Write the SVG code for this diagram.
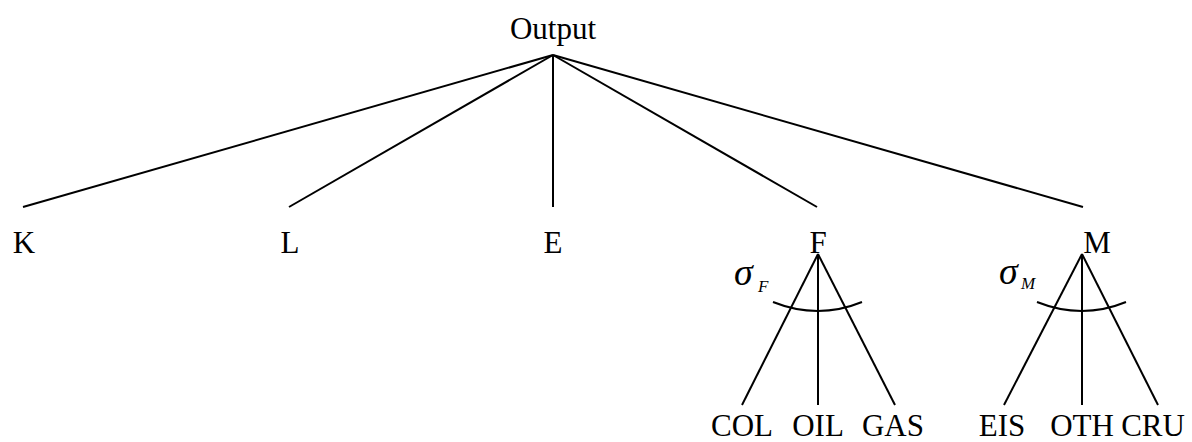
<svg xmlns="http://www.w3.org/2000/svg" width="1192" height="442" viewBox="0 0 1192 442">
<style>
.ln{stroke:#000;stroke-width:2;fill:none}
.t{font-family:"Liberation Serif","Times New Roman",serif;font-size:31px;fill:#000;text-anchor:middle}
.s{font-family:"Liberation Serif","Times New Roman",serif;font-style:italic;fill:#000}
</style>
<rect width="1192" height="442" fill="#fff"/>
<g id="connectors">
<line class="ln" x1="553" y1="55" x2="23" y2="207"/>
<line class="ln" x1="553" y1="55" x2="289" y2="207"/>
<line class="ln" x1="553" y1="55" x2="553" y2="207"/>
<line class="ln" x1="553" y1="55" x2="817" y2="207"/>
<line class="ln" x1="553" y1="55" x2="1083" y2="207"/>
<line class="ln" x1="818" y1="254" x2="742" y2="405"/>
<line class="ln" x1="818" y1="254" x2="818" y2="405"/>
<line class="ln" x1="818" y1="254" x2="895" y2="405"/>
<line class="ln" x1="1082" y1="254" x2="1004" y2="405"/>
<line class="ln" x1="1082" y1="254" x2="1082" y2="405"/>
<line class="ln" x1="1082" y1="254" x2="1158" y2="405"/>
<path class="ln" d="M773,302 Q818,320 862,302"/>
<path class="ln" d="M1037,302 Q1082,320 1126,302"/>
</g>
<g id="output"><text class="t" x="553" y="39">Output</text></g>
<g id="K"><text class="t" x="24" y="253">K</text></g>
<g id="L"><text class="t" x="290" y="253">L</text></g>
<g id="E"><text class="t" x="553" y="253">E</text></g>
<g id="F"><text class="t" x="818" y="253">F</text></g>
<g id="M"><text class="t" x="1097" y="253">M</text></g>
<g id="sigmaF"><text class="s" x="734" y="285" font-size="38">σ</text><text class="s" x="758" y="292" font-size="17">F</text></g>
<g id="sigmaM"><text class="s" x="999" y="284" font-size="38">σ</text><text class="s" x="1021" y="289" font-size="17">M</text></g>
<g id="COL"><text class="t" x="742" y="436">COL</text></g>
<g id="OIL"><text class="t" x="818" y="436">OIL</text></g>
<g id="GAS"><text class="t" x="893" y="436">GAS</text></g>
<g id="EIS"><text class="t" x="1002" y="436">EIS</text></g>
<g id="OTH"><text class="t" x="1082" y="436">OTH</text></g>
<g id="CRU"><text class="t" x="1153" y="436">CRU</text></g>
</svg>
